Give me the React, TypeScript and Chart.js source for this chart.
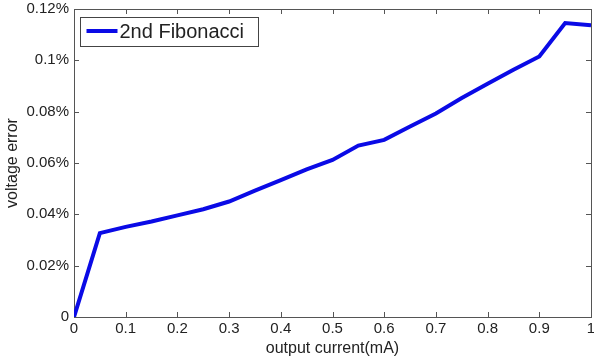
import React, { useEffect, useRef } from "react";
import Chart from "chart.js/auto";

const currents = [0, 0.05, 0.1, 0.15, 0.2, 0.25, 0.3, 0.35, 0.4, 0.45, 0.5, 0.55, 0.6, 0.65, 0.7, 0.75, 0.8, 0.85, 0.9, 0.95, 1.0];
const voltageError = [0, 0.0327, 0.0351, 0.0372, 0.0396, 0.042, 0.045, 0.0492, 0.0533, 0.0575, 0.0612, 0.0668, 0.069, 0.0742, 0.0793, 0.0853, 0.0909, 0.0963, 0.1015, 0.1145, 0.1137];
const xTickLabels = ["0", "0.1", "0.2", "0.3", "0.4", "0.5", "0.6", "0.7", "0.8", "0.9", "1"];
const yTickLabels = ["0", "0.02%", "0.04%", "0.06%", "0.08%", "0.1%", "0.12%"];
const seriesName = "2nd Fibonacci";

const FONT = "'Liberation Sans', Arial, sans-serif";
const LINE_COLOR = "#0a0ae6";
const AXIS_COLOR = "#555555";
const TEXT_COLOR = "#222222";

const framePlugin = {
  id: "matlabFrame",
  beforeDatasetsDraw(chart: any) {
    const { ctx, chartArea } = chart;
    const { left, right, top, bottom } = chartArea;
    const xs = chart.scales.x;
    const ys = chart.scales.y;
    ctx.save();
    ctx.strokeStyle = AXIS_COLOR;
    ctx.lineWidth = 1;
    ctx.strokeRect(Math.round(left) + 0.5, Math.round(top) + 0.5, Math.round(right - left), Math.round(bottom - top));
    ctx.beginPath();
    const tl = 5;
    xs.ticks.forEach((t: any) => {
      const px = Math.round(xs.getPixelForValue(t.value)) + 0.5;
      ctx.moveTo(px, bottom);
      ctx.lineTo(px, bottom - tl);
      ctx.moveTo(px, top);
      ctx.lineTo(px, top + tl);
    });
    ys.ticks.forEach((t: any) => {
      const py = Math.round(ys.getPixelForValue(t.value)) + 0.5;
      ctx.moveTo(left, py);
      ctx.lineTo(left + tl, py);
      ctx.moveTo(right, py);
      ctx.lineTo(right - tl, py);
    });
    ctx.stroke();
    ctx.restore();
  },
  afterDraw(chart: any) {
    const { ctx, chartArea } = chart;
    const { left, top } = chartArea;
    const bx = Math.round(left) + 6.5;
    const by = Math.round(top) + 8.5;
    const bw = 178;
    const bh = 29;
    ctx.save();
    ctx.fillStyle = "#ffffff";
    ctx.fillRect(bx, by, bw, bh);
    ctx.strokeStyle = "#444444";
    ctx.lineWidth = 1;
    ctx.strokeRect(bx, by, bw, bh);
    ctx.strokeStyle = LINE_COLOR;
    ctx.lineWidth = 4;
    ctx.beginPath();
    ctx.moveTo(bx + 6, by + 13.5);
    ctx.lineTo(bx + 37, by + 13.5);
    ctx.stroke();
    ctx.fillStyle = TEXT_COLOR;
    ctx.font = `20px ${FONT}`;
    ctx.textBaseline = "middle";
    ctx.textAlign = "left";
    ctx.fillText(seriesName, bx + 39, by + 15);
    ctx.restore();
  },
};

export default function App() {
  const ref = useRef<HTMLCanvasElement | null>(null);
  useEffect(() => {
    document.body.style.margin = "0";
    const canvas = ref.current;
    if (!canvas) return;
    const chart = new Chart(canvas, {
      type: "line",
      data: {
        datasets: [
          {
            label: seriesName,
            data: currents.map((c, i) => ({ x: c, y: voltageError[i] })),
            borderColor: LINE_COLOR,
            backgroundColor: LINE_COLOR,
            borderWidth: 4,
            pointRadius: 0,
            tension: 0,
            fill: false,
          },
        ],
      },
      options: {
        responsive: false,
        animation: false,
        layout: { padding: { left: 0, top: 9, right: 3, bottom: 0 } },
        plugins: { legend: { display: false }, tooltip: { enabled: false } },
        scales: {
          x: {
            type: "linear",
            min: 0,
            max: 1,
            border: { display: false },
            grid: { display: false, drawTicks: false },
            ticks: {
              stepSize: 0.1,
              padding: 3,
              maxRotation: 0,
              autoSkip: false,
              color: TEXT_COLOR,
              font: { family: FONT, size: 15 },
              callback: (_v: any, i: number) => xTickLabels[i],
            },
            title: {
              display: true,
              text: "output current(mA)",
              color: TEXT_COLOR,
              font: { family: FONT, size: 16 },
              padding: { top: 0, bottom: 4 },
            },
            afterFit: (s: any) => {
              s.height = 45;
              s.paddingLeft = 0;
              s.paddingRight = 0;
            },
          },
          y: {
            type: "linear",
            min: 0,
            max: 0.12,
            border: { display: false },
            grid: { display: false, drawTicks: false },
            ticks: {
              stepSize: 0.02,
              padding: 5,
              autoSkip: false,
              color: TEXT_COLOR,
              font: { family: FONT, size: 15 },
              callback: (_v: any, i: number) => yTickLabels[i],
            },
            title: {
              display: true,
              text: "voltage error",
              color: TEXT_COLOR,
              font: { family: FONT, size: 16 },
              padding: { top: 3, bottom: 0 },
            },
            afterFit: (s: any) => {
              s.width = 74;
              s.paddingTop = 0;
              s.paddingBottom = 0;
            },
          },
        },
      },
      plugins: [framePlugin],
    });
    return () => chart.destroy();
  }, []);
  return <canvas ref={ref} width={594} height={362} style={{ display: "block" }} />;
}
